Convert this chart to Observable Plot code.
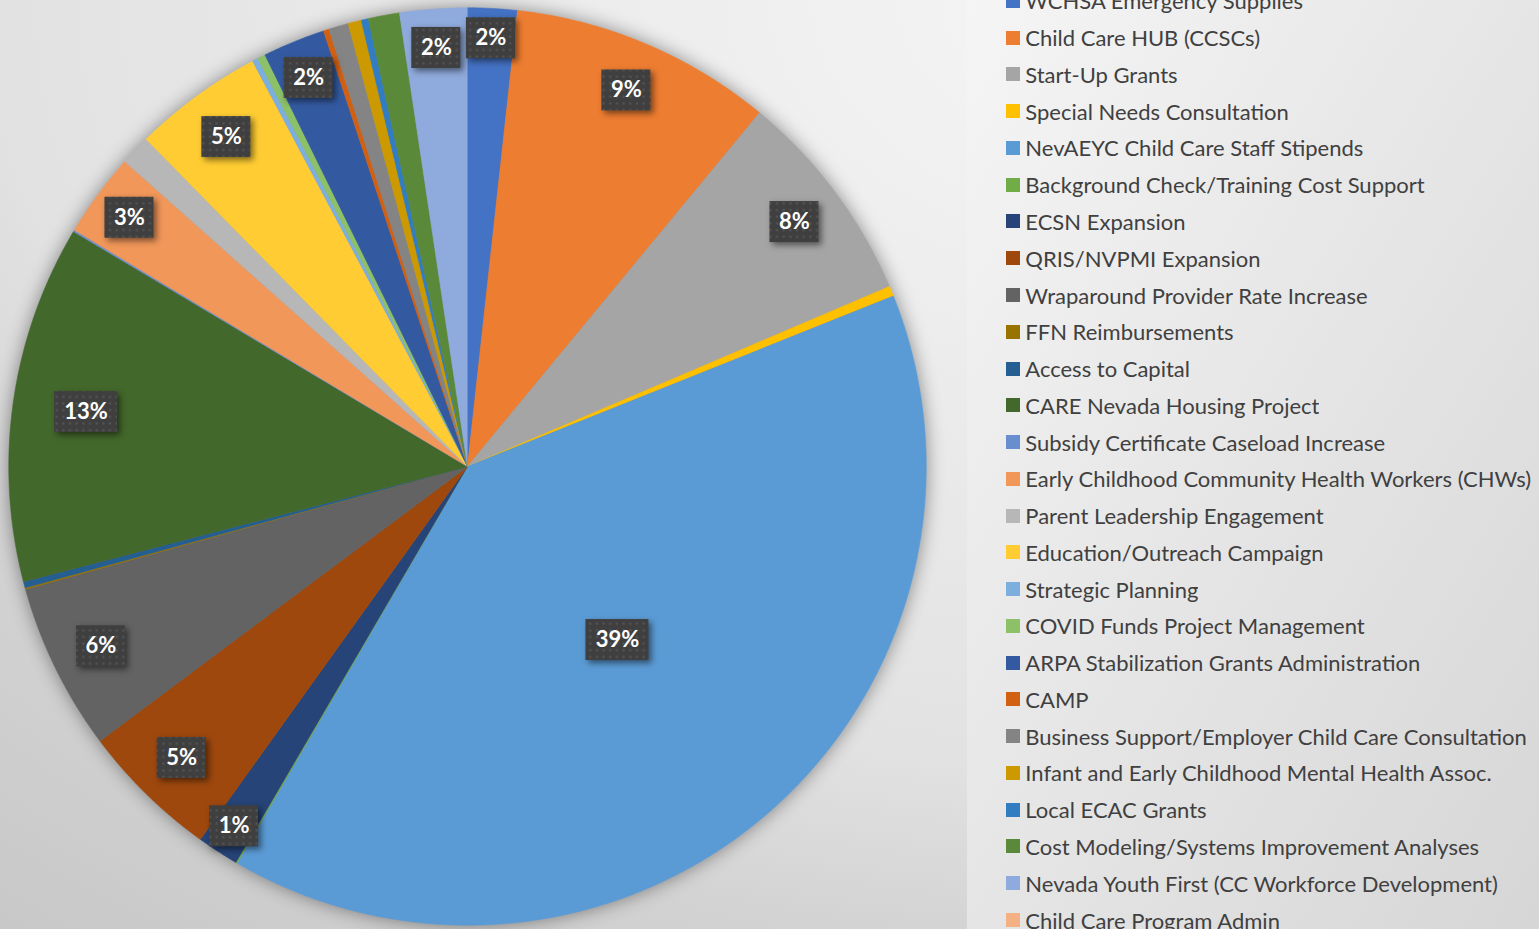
<!DOCTYPE html>
<html><head><meta charset="utf-8">
<script src="https://cdn.jsdelivr.net/npm/d3@7"></script>
<script src="https://cdn.jsdelivr.net/npm/@observablehq/plot@0.6"></script>
<style>
html,body{margin:0;padding:0;}
body{width:1539px;height:929px;overflow:hidden;position:relative;
background: radial-gradient(1800px 1200px at 75% 0%, #f6f6f6 0%, #e2e2e2 64%, #d2d2d2 80%, #c8c8c8 100%);}
#panel{position:absolute;left:967px;top:0;width:572px;height:929px;background:linear-gradient(to bottom right,#f5f5f5,#d6d6d6);}
#chart{position:absolute;left:0;top:0;}
#legend{position:absolute;left:1006px;top:-17.5px;}
.lg-swatches{font-family:Lato,sans-serif;font-size:22px;color:#404040;margin:0 !important;width:560px;}
.lg-swatch{height:36.77px;padding-bottom:0 !important;}
.lg-swatch > svg{margin-right:5.3px !important;}
#chart g[aria-label="line"]{filter:drop-shadow(0 0 9px rgba(0,0,0,0.42));}
#chart g[aria-label="rect"]{filter:drop-shadow(3px 3px 3px rgba(0,0,0,0.5));}
</style></head><body>
<div id="panel"></div><div id="chart"></div><div id="legend"></div>
<script>
const categories = [
  "WCHSA Emergency Supplies",
  "Child Care HUB (CCSCs)",
  "Start-Up Grants",
  "Special Needs Consultation",
  "NevAEYC Child Care Staff Stipends",
  "Background Check/Training Cost Support",
  "ECSN Expansion",
  "QRIS/NVPMI Expansion",
  "Wraparound Provider Rate Increase",
  "FFN Reimbursements",
  "Access to Capital",
  "CARE Nevada Housing Project",
  "Subsidy Certificate Caseload Increase",
  "Early Childhood Community Health Workers (CHWs)",
  "Parent Leadership Engagement",
  "Education/Outreach Campaign",
  "Strategic Planning",
  "COVID Funds Project Management",
  "ARPA Stabilization Grants Administration",
  "CAMP",
  "Business Support/Employer Child Care Consultation",
  "Infant and Early Childhood Mental Health Assoc.",
  "Local ECAC Grants",
  "Cost Modeling/Systems Improvement Analyses",
  "Nevada Youth First (CC Workforce Development)",
  "Child Care Program Admin"
];
const values = [1.74, 9.25, 7.6, 0.36, 39.45, 0.05, 1.47, 4.9, 5.9, 0.05, 0.22, 12.6, 0.06,
  2.96, 1.07, 4.6, 0.2, 0.28, 2.2, 0.2, 0.69, 0.47, 0.25, 1.1, 2.37, 0];
const palette = ["#4472C4","#ED7D31","#A5A5A5","#FFC000","#5B9BD5","#70AD47",
  "#264478","#9E480E","#636363","#997300","#255E91","#43682B",
  "#698ED0","#F1975A","#B7B7B7","#FFCD33","#7CAFDD","#8CC168",
  "#335AA1","#D26012","#848484","#CC9A00","#327DC2","#5A8A39",
  "#8FAADC","#F4B183"];

const R = 458.7, CX = 467, CY = 466;
const total = d3.sum(values);
let acc = 0;
const slices = categories.map((name, i) => {
  const a0 = acc / total * 2 * Math.PI; acc += values[i];
  const a1 = acc / total * 2 * Math.PI;
  return {name, value: values[i], a0, a1};
});
const pts = [];
for (const s of slices) {
  if (s.a1 <= s.a0) continue;
  pts.push({name: s.name, x: 0, y: 0});
  const n = Math.max(2, Math.ceil((s.a1 - s.a0) / (Math.PI / 720)));
  for (let k = 0; k <= n; k++) {
    const a = s.a0 + (s.a1 - s.a0) * k / n;
    pts.push({name: s.name, x: Math.sin(a), y: Math.cos(a)});
  }
}
const labels = slices.filter(s => s.value / total * 100 >= 1.3).map(s => {
  const p = s.value / total * 100;
  const f = p > 30 ? 0.5 : p > 10 ? 0.84 : p < 2 ? 0.935 : p < 3 ? 0.915 : 0.89;
  const m = (s.a0 + s.a1) / 2;
  const text = Math.round(p) + "%";
  const hw = (text.length === 2 ? 24.5 : 31.5) / R, hh = 20.5 / R;
  return {text, x: f * Math.sin(m), y: f * Math.cos(m), hw, hh};
});

const defs = () => {
  const ns = "http://www.w3.org/2000/svg";
  const d = document.createElementNS(ns, "defs");
  d.innerHTML = '<pattern id="dots" patternUnits="userSpaceOnUse" width="6.67" height="6.67"><rect width="6.67" height="6.67" fill="#3f3f3f"/><rect x="2.3" y="2.3" width="2" height="2" fill="#575757"/></pattern>';
  return d;
};

const plot = Plot.plot({
  width: 960, height: 929,
  margin: 0,
  style: {background: "transparent", overflow: "visible"},
  x: {domain: [-1, 1], range: [CX - R, CX + R], axis: null},
  y: {domain: [-1, 1], range: [CY + R, CY - R], axis: null},
  color: {type: "ordinal", domain: categories, range: palette},
  marks: [
    defs,
    Plot.line(pts, {x: "x", y: "y", z: "name", fill: "name", stroke: "name", strokeWidth: 0.6, curve: "linear"}),
    Plot.rect(labels, {x1: d => d.x - d.hw, x2: d => d.x + d.hw, y1: d => d.y - d.hh, y2: d => d.y + d.hh, fill: "url(#dots)"}),
    Plot.text(labels, {x: "x", y: "y", text: "text", fill: "white", fontSize: 22, fontWeight: "bold", fontFamily: "Lato"})
  ]
});
document.getElementById("chart").appendChild(plot);

const legend = Plot.legend({
  color: {type: "ordinal", domain: categories, range: palette},
  legend: "swatches", columns: 1, swatchSize: 14, className: "lg"
});
document.getElementById("legend").appendChild(legend);
</script>
</body></html>
